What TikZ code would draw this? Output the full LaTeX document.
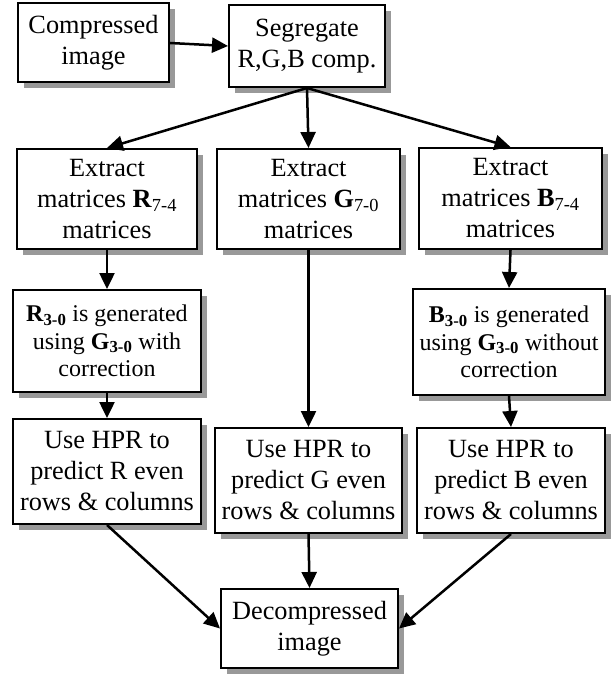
\documentclass[tikz,border=0pt]{standalone}
\usepackage{fontspec}
\setmainfont{Liberation Serif}
\usetikzlibrary{arrows.meta}
\newcommand\flowbox[7]{%
  \node[box,#1,minimum width=#5pt,minimum height=#6pt] (#2) at (#3,#4) {#7};
  \fill[shadowfill] ({#3+#5/2+1},{#4-#6/2+6}) rectangle ({#3+#5/2+6},{#4+#6/2+6});
  \fill[shadowfill] ({#3-#5/2+6},{#4+#6/2+1}) rectangle ({#3+#5/2+6},{#4+#6/2+6});}
\begin{document}
\begin{tikzpicture}[x=1pt,y=-1pt,
  box/.style={draw=black, line width=2pt, fill=white, align=center, inner sep=0pt,
    font=\fontsize{26.3}{31}\selectfont},
  normaltext/.style={},
  smalltext/.style={font=\fontsize{24}{27.5}\selectfont},
  shadowfill/.style={fill=black!40},
  conn/.style={line width=2.5pt, -{Triangle[length=16pt,width=15pt]}}]
\useasboundingbox (0,0) rectangle (615,676);
\flowbox{normaltext}{comp}{93.5}{43}{151}{79}{Compressed\\image}
\flowbox{normaltext}{seg}{307}{46}{156}{82}{Segregate\\R,G,B comp.}
\flowbox{normaltext}{exR}{107}{199}{180}{100}{Extract\\matrices \textbf{R}\textsubscript{7-4}\\matrices}
\flowbox{normaltext}{exG}{308.5}{199}{183}{100}{Extract\\matrices \textbf{G}\textsubscript{7-0}\\matrices}
\flowbox{normaltext}{exB}{510.5}{198.5}{183}{101}{Extract\\matrices \textbf{B}\textsubscript{7-4}\\matrices}
\flowbox{smalltext}{rgen}{107}{341}{188}{102}{\textbf{R\textsubscript{3-0}} is generated\\using \textbf{G\textsubscript{3-0}} with\\correction}
\flowbox{smalltext}{bgen}{509}{342}{192}{106}{\textbf{B\textsubscript{3-0}} is generated\\using \textbf{G\textsubscript{3-0}} without\\correction}
\flowbox{normaltext}{hprR}{107}{471.5}{188}{105}{Use HPR to\\predict R even\\rows \& columns}
\flowbox{normaltext}{hprG}{308.5}{480.5}{187}{105}{Use HPR to\\predict G even\\rows \& columns}
\flowbox{normaltext}{hprB}{511}{480.5}{188}{105}{Use HPR to\\predict B even\\rows \& columns}
\flowbox{normaltext}{dec}{309.5}{628.5}{177}{79}{Decompressed\\image}
\draw[conn] (comp.east) -- (seg.west);
\draw[conn] (seg.south) -- (exR.north);
\draw[conn] (seg.south) -- (exG.north);
\draw[conn] (seg.south) -- (exB.north);
\draw[conn] (exR.south) -- (rgen.north);
\draw[conn] (rgen.south) -- (hprR.north);
\draw[conn] (exG.south) -- (hprG.north);
\draw[conn] (exB.south) -- (bgen.north);
\draw[conn] (bgen.south) -- (hprB.north);
\draw[conn] (hprR.south) -- (dec.west);
\draw[conn] (hprG.south) -- (dec.north);
\draw[conn] (hprB.south) -- (dec.east);
\end{tikzpicture}
\end{document}
